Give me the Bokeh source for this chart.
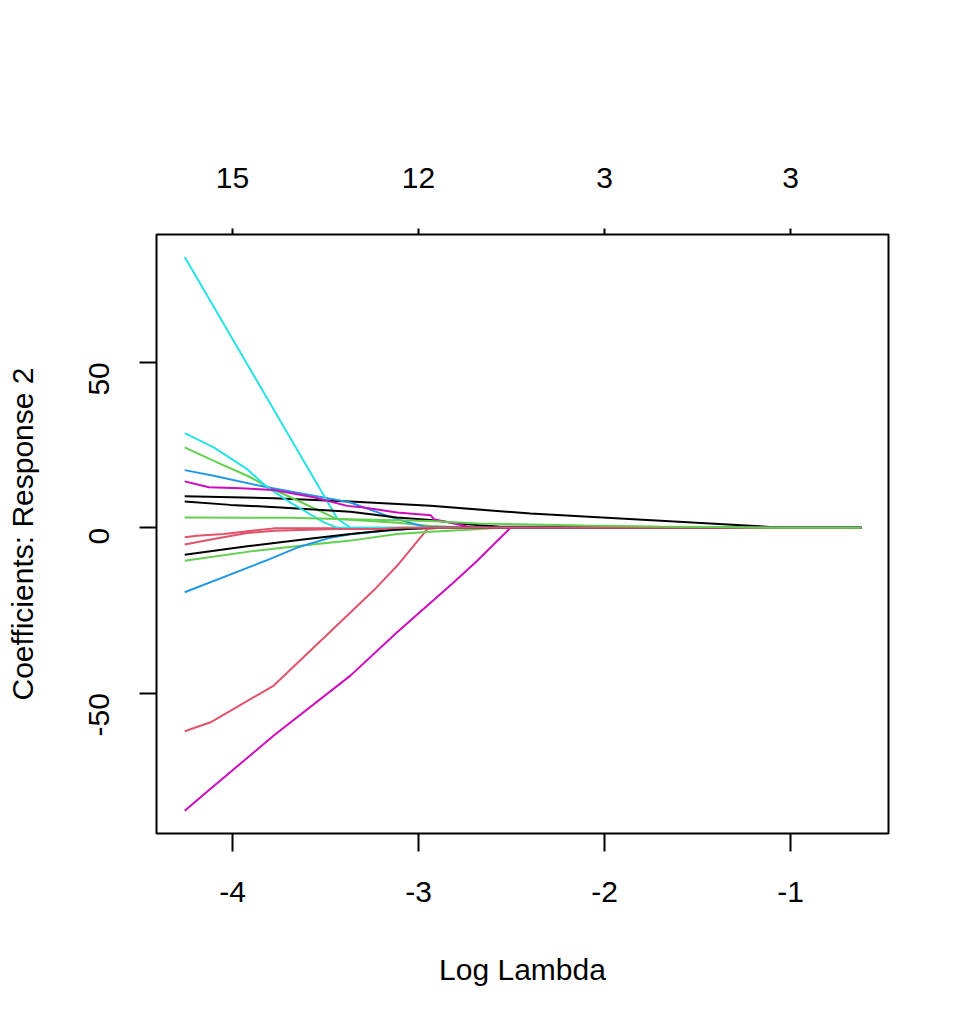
import math
from bokeh.plotting import figure
from bokeh.models import Range1d, LinearAxis, FixedTicker
from bokeh.embed import file_html
from bokeh.resources import INLINE

# ---- data: coefficient paths (log lambda, coefficient) ----
x_ticks = [-4, -3, -2, -1]
x_tick_labels = ["-4", "-3", "-2", "-1"]
y_ticks = [-50, 0, 50]
y_tick_labels = ["-50", "0", "50"]
df_labels = ["15", "12", "3", "3"]

c01_x = [-4.257, -3.437, -3.366, -0.619]
c01_y = [81.8, 2.8, 0.0, 0.0]
c02_x = [-4.257, -4.101, -3.921, -3.813, -3.688, -3.509, -3.437, -0.619]
c02_y = [28.6, 24.3, 17.7, 12.2, 7.6, 1.6, 0.0, 0.0]
c03_x = [-4.257, -4.101, -3.921, -3.805, -3.688, -3.437, -3.115, -2.935, -2.720, -0.619]
c03_y = [24.3, 20.2, 15.7, 12.2, 9.2, 2.6, 1.5, 0.5, 0.0, 0.0]
c04_x = [-4.257, -4.101, -3.813, -3.563, -3.366, -3.242, -3.115, -2.989, -2.935, -0.619]
c04_y = [17.4, 15.7, 12.2, 9.7, 7.6, 5.1, 2.6, 0.6, 0.0, 0.0]
c05_x = [-4.257, -4.127, -3.957, -3.778, -3.563, -3.383, -3.294, -3.115, -2.935, -2.917, -2.756, -2.720, -0.619]
c05_y = [14.0, 12.2, 11.9, 11.4, 9.2, 6.6, 6.1, 4.6, 3.8, 2.6, 0.6, 0.0, 0.0]
c06_x = [-4.257, -3.778, -3.366, -2.935, -2.398, -1.036, -0.619]
c06_y = [9.5, 8.9, 7.9, 6.6, 4.3, 0.0, 0.0]
c07_x = [-4.257, -4.011, -3.742, -3.366, -3.115, -2.935, -2.756, -2.559, -2.111, -2.022, -0.619]
c07_y = [7.9, 6.9, 6.1, 4.8, 3.1, 2.3, 1.1, 0.3, 0.3, 0.0, 0.0]
c08_x = [-4.257, -3.688, -3.437, -2.935, -2.684, -2.398, -2.111, -1.715, -1.306, -1.161, -0.619]
c08_y = [3.1, 3.0, 2.6, 2.0, 1.3, 1.0, 0.7, 0.4, 0.15, 0.0, 0.0]
c09_x = [-4.257, -4.190, -4.047, -3.778, -3.437, -2.935, -2.882, -0.619]
c09_y = [-2.9, -2.4, -1.9, -0.2, -0.2, -0.3, 0.0, 0.0]
c10_x = [-4.257, -4.101, -3.921, -3.778, -3.437, -3.200, -3.100, -0.619]
c10_y = [-5.1, -3.4, -1.6, -0.9, -0.4, -0.4, 0.0, 0.0]
c11_x = [-4.257, -3.921, -3.598, -3.366, -3.151, -2.971, -2.935, -0.619]
c11_y = [-8.2, -5.6, -3.4, -1.9, -0.7, -0.1, 0.0, 0.0]
c12_x = [-4.257, -3.921, -3.598, -3.366, -3.115, -2.935, -2.756, -2.559, -0.619]
c12_y = [-10.0, -7.3, -5.2, -3.9, -1.9, -1.2, -0.7, 0.0, 0.0]
c13_x = [-4.257, -3.823, -3.652, -3.473, -3.366, -3.178, -2.989, -2.935, -0.619]
c13_y = [-19.5, -10.0, -6.0, -3.0, -2.0, -0.9, -0.1, 0.0, 0.0]
c14_x = [-4.257, -4.118, -3.778, -3.366, -3.242, -3.115, -2.946, -0.619]
c14_y = [-61.5, -58.8, -47.7, -25.6, -19.0, -11.5, 0.0, 0.0]
c15_x = [-4.257, -4.118, -3.778, -3.366, -3.115, -2.810, -2.684, -2.505, -0.619]
c15_y = [-85.5, -78.9, -62.8, -44.7, -31.6, -16.5, -10.0, 0.0, 0.0]

BLACK, RED, GREEN, BLUE, CYAN, MAGENTA = "#000000", "#DF536B", "#61D04F", "#2297E6", "#28E2E5", "#CD0BBC"

series = [
    (c06_x, c06_y, BLACK), (c14_x, c14_y, RED), (c03_x, c03_y, GREEN),
    (c04_x, c04_y, BLUE), (c01_x, c01_y, CYAN), (c15_x, c15_y, MAGENTA),
    (c07_x, c07_y, BLACK), (c09_x, c09_y, RED), (c12_x, c12_y, GREEN),
    (c13_x, c13_y, BLUE), (c02_x, c02_y, CYAN), (c05_x, c05_y, MAGENTA),
    (c11_x, c11_y, BLACK), (c10_x, c10_y, RED), (c08_x, c08_y, GREEN),
]

FONT = "Liberation Sans"
FS = "30px"

p = figure(width=970, height=1030, output_backend="svg", toolbar_location=None,
           x_range=Range1d(-4.4086, -0.4731), y_range=Range1d(-92.4, 88.6),
           min_border_left=156, min_border_right=82, min_border_top=234, min_border_bottom=197)

for xs, ys, col in series:
    p.line(xs, ys, line_color=col, line_width=2)

p.xgrid.visible = False
p.ygrid.visible = False
p.outline_line_color = "black"
p.outline_line_width = 2
p.background_fill_color = "white"
p.border_fill_color = "white"


def style_axis(ax, tick_out, standoff):
    ax.axis_line_color = None
    ax.major_tick_out = tick_out
    ax.major_tick_in = 0
    ax.major_tick_line_width = 2
    ax.major_tick_line_color = "black"
    ax.minor_tick_line_color = None
    ax.major_label_text_font = FONT
    ax.major_label_text_font_size = FS
    ax.major_label_text_color = "black"
    ax.major_label_standoff = standoff
    ax.axis_label_text_font = FONT
    ax.axis_label_text_font_size = FS
    ax.axis_label_text_font_style = "normal"
    ax.axis_label_text_color = "black"


xa = p.xaxis[0]
xa.ticker = FixedTicker(ticks=x_ticks)
xa.major_label_overrides = {t: lab for t, lab in zip(x_ticks, x_tick_labels)}
style_axis(xa, 18, 30)
xa.axis_label = "Log Lambda"
xa.axis_label_standoff = 48

ya = p.yaxis[0]
ya.ticker = FixedTicker(ticks=y_ticks)
ya.major_label_overrides = {t: lab for t, lab in zip(y_ticks, y_tick_labels)}
style_axis(ya, 17, 40)
ya.major_label_orientation = math.pi / 2
ya.axis_label = "Coefficients: Response 2"
ya.axis_label_standoff = 38

top = LinearAxis(ticker=FixedTicker(ticks=x_ticks),
                 major_label_overrides={t: lab for t, lab in zip(x_ticks, df_labels)})
style_axis(top, 6, 41)
p.add_layout(top, "above")

open("out.html", "w").write(file_html(p, INLINE))
